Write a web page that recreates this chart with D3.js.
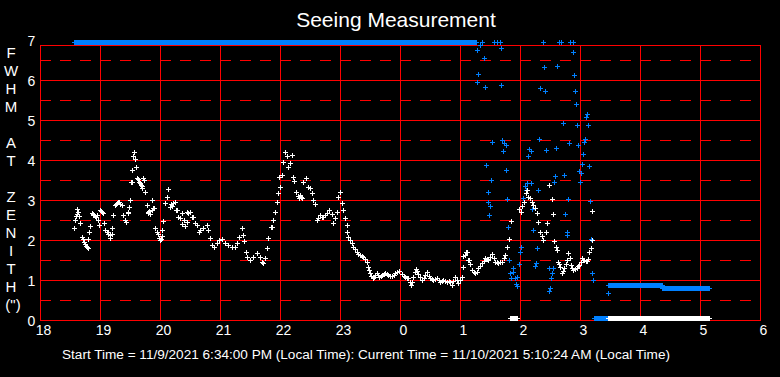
<!DOCTYPE html>
<html>
<head>
<meta charset="utf-8">
<script src="https://cdn.jsdelivr.net/npm/d3@7"></script>
<style>
  body { margin: 0; background: #000; }
  svg { display: block; }
</style>
</head>
<body>
<script>
// time is minutes after 18:00 local, value is FWHM at zenith in arcsec
var hourTicks = [18, 19, 20, 21, 22, 23, 0, 1, 2, 3, 4, 5, 6];
var fwhmTicks = [0, 1, 2, 3, 4, 5, 6, 7];
var titleLetters = ["F", "W", "H", "M", "", "A", "T", "", "Z", "E", "N", "I", "T", "H", "(\")"];

var seeing = [[34,2.29],[35,2.50],[35.5,2.60],[36.7,2.64],[37.3,2.77],[38.3,2.71],[39.3,2.61],[40.3,2.42],[42.3,2.08],[43.3,2.02],[44,1.96],[45,1.90],[46,1.85],[46.7,1.82],[47.5,1.79],[48.3,2.02],[49.3,2.19],[50.3,2.35],[51.7,2.67],[53,2.65],[53.3,2.62],[54.5,2.60],[55.5,2.58],[56.5,2.63],[57.7,2.50],[59.3,2.37],[60,2.75],[61,2.72],[61.7,2.71],[63.3,2.67],[64.3,2.42],[65,2.25],[66.5,2.20],[68,2.15],[68.3,2.21],[70,2.12],[70.3,2.04],[71.5,2.15],[72.3,2.29],[73.3,2.62],[75,2.88],[76,2.90],[77,2.93],[78,2.96],[79,2.94],[80,2.90],[81.7,2.87],[83.3,2.62],[85,2.50],[86,2.46],[87.7,2.67],[88.3,2.71],[89.3,2.83],[90,3.00],[91,3.44],[91.7,3.46],[92.3,3.75],[93.3,4.10],[94.3,4.21],[95,4.02],[96,3.82],[96.7,3.54],[97.7,3.52],[99,3.45],[100,3.42],[101,3.38],[101.7,3.29],[102,3.35],[103.3,3.54],[103.8,3.50],[105.3,3.21],[106.7,2.87],[107.5,2.70],[108.3,2.67],[109,2.72],[110,2.65],[111.7,3.00],[112,2.75],[113.3,2.79],[114.3,2.79],[115,2.29],[116.7,2.21],[117.5,2.15],[118.5,2.05],[120,2.00],[121,2.03],[122,2.10],[122.3,2.25],[123.3,2.47],[125,2.92],[126.7,3.08],[128.3,3.27],[130,2.83],[131,2.90],[132,2.86],[133,2.92],[135,2.96],[136,2.75],[136.7,2.75],[138.3,2.58],[140,2.55],[141.7,2.67],[142,2.40],[143.5,2.50],[145,2.35],[146.7,2.71],[147,2.45],[148.3,2.67],[150,2.71],[151.7,2.58],[153.3,2.58],[155,2.42],[156.7,2.37],[159,2.21],[160,2.25],[163.3,2.29],[166.7,2.37],[168.3,2.25],[170,2.04],[171.7,1.87],[174,1.82],[176.7,1.92],[179.3,2.00],[181.7,2.02],[185,1.92],[188.3,1.87],[191.7,1.83],[195,1.83],[196.7,1.92],[199,2.08],[201.7,2.29],[203.3,2.12],[204.3,1.98],[205.7,1.71],[207.3,1.58],[210,1.50],[213.3,1.58],[216.7,1.67],[220,1.58],[221.7,1.46],[222.7,1.42],[225,1.54],[226.7,1.79],[228.3,2.04],[230.7,2.33],[231.7,2.33],[233.3,2.50],[235,2.71],[236.7,2.96],[238.3,3.17],[239.3,3.58],[240,3.33],[241.7,3.62],[243.3,3.94],[245,4.21],[246.7,4.10],[248.3,3.83],[250,3.92],[251.7,4.12],[253.3,3.58],[254.3,3.48],[255.7,3.21],[258,3.10],[259,3.05],[260,3.12],[261,3.08],[262,3.05],[263.3,3.46],[265.7,3.54],[268.3,3.33],[270,3.29],[271.7,3.17],[273.3,3.00],[275,2.90],[276.7,2.50],[278,2.55],[280,2.62],[281.5,2.58],[283.3,2.57],[285,2.62],[286.7,2.67],[289.3,2.75],[291.7,2.65],[293.3,2.42],[295,2.54],[297.3,2.71],[298.3,3.08],[300,3.21],[302.3,2.92],[303.3,2.75],[305,2.54],[306.7,2.37],[307.3,2.21],[308.3,2.08],[310,2.00],[311.5,1.92],[313.3,1.83],[315,1.77],[316.7,1.71],[318,1.66],[320,1.62],[321.5,1.60],[323.3,1.58],[325,1.52],[326.7,1.46],[327.7,1.33],[329,1.25],[330,1.17],[331.5,1.10],[332.7,1.04],[334,1.08],[335,1.12],[336.7,1.18],[338,1.12],[339.3,1.08],[341,1.10],[341.7,1.12],[343.5,1.15],[345,1.18],[346.5,1.14],[348.3,1.12],[350,1.10],[351.7,1.10],[353.5,1.13],[355,1.17],[357,1.20],[359.3,1.23],[361.7,1.15],[363.5,1.10],[365,1.08],[366.7,1.05],[368.3,1.04],[370,0.95],[371,0.87],[372,0.95],[373.3,1.08],[375,1.20],[376,1.27],[377,1.22],[378.3,1.15],[380,1.08],[381.7,1.00],[383.5,1.06],[385,1.12],[386.7,1.21],[388.5,1.10],[390,1.04],[391.7,1.02],[393.3,1.00],[395,1.02],[396.7,1.04],[398.5,1.00],[400,0.96],[401.7,0.98],[403.3,1.00],[405,0.98],[406.7,0.96],[408.5,0.97],[410,0.96],[411.7,0.87],[413.5,0.98],[415,1.08],[416.7,1.00],[418.3,0.92],[420,1.00],[421.7,1.08],[422.7,1.60],[423.3,1.32],[425,1.62],[426,1.71],[426.7,1.71],[428.3,1.50],[429.3,1.50],[430.5,1.40],[431.7,1.25],[433.5,1.20],[435,1.17],[436.7,1.20],[438.3,1.29],[440,1.35],[441.7,1.42],[443.5,1.48],[445,1.54],[446.7,1.52],[448.3,1.50],[450,1.58],[451.7,1.65],[453.5,1.55],[455,1.46],[456.7,1.44],[458.3,1.42],[460,1.45],[461.7,1.46],[463.5,1.55],[465,1.62],[466.7,1.82],[469.3,2.02],[470.7,2.47],[479,2.77],[480.7,2.71],[482,2.85],[484.3,2.96],[486,3.17],[487,3.25],[488.3,3.08],[490,3.04],[491.5,2.95],[493.3,2.87],[495,2.79],[496.7,2.67],[498.3,2.46],[500,2.21],[501.5,2.10],[503.3,2.00],[505.7,2.21],[507.3,2.42],[509.3,3.37],[511.7,3.02],[513.3,2.65],[514.3,1.98],[515.7,1.83],[516.7,1.75],[517.7,1.46],[519,1.40],[520,1.33],[521.7,1.17],[523,1.22],[524,1.29],[525.5,1.40],[526.7,1.50],[528.3,1.67],[529.5,1.55],[530.7,1.37],[532,1.30],[533.3,1.25],[535,1.27],[536.7,1.29],[538,1.35],[539.3,1.37],[540.5,1.45],[541.7,1.54],[543,1.50],[544,1.50],[545.5,1.48],[546.7,1.48],[548,1.52],[549.3,1.71],[550.7,1.79],[551.7,2.00],[552.3,2.72]];

var other = [[436.7,6.75],[438.3,6.14],[437.3,5.96],[440,6.87],[444.3,6.54],[445.3,5.82],[446.3,3.87],[447.7,3.19],[448.3,2.94],[449.3,2.62],[450,2.85],[451.3,3.50],[452.3,4.44],[460.7,6.79],[461.3,5.87],[462.3,4.50],[463.3,4.22],[464.3,4.42],[466,4.37],[466.3,3.74],[467.3,3.02],[468.3,2.32],[469.3,1.50],[470,1.17],[471,1.06],[472.7,1.31],[473.3,1.21],[475,1.04],[476,0.89],[477.3,0.86],[477.3,1.08],[479.3,1.40],[480,1.69],[481.3,1.83],[483.3,3.04],[484.7,3.35],[486,3.25],[487.3,3.42],[488.3,4.09],[489.3,4.27],[490.7,4.23],[491,3.42],[492,2.77],[492.7,2.25],[495.3,1.35],[496,1.43],[497.3,1.79],[498.3,3.25],[499.3,4.52],[500.3,5.79],[504.3,6.32],[505.3,5.72],[506.3,4.24],[508.7,1.29],[509.3,0.73],[510,0.79],[511.3,1.04],[511.7,1.17],[513.3,1.29],[514.3,3.44],[515.3,3.59],[516.3,4.29],[517.3,6.35],[523.3,4.92],[524.3,3.62],[525,2.64],[526.7,2.20],[527.3,2.12],[528.3,3.02],[529.3,4.42],[533.3,6.69],[534.3,6.12],[535.3,5.72],[536.3,5.39],[537.3,4.87],[538.3,4.37],[539.3,3.72],[540,3.46],[541.3,3.68],[542.3,3.89],[543.3,4.14],[544.3,4.44],[545.3,4.52],[546.3,5.07],[547.3,5.14],[548.3,4.87],[549.3,3.84],[550,2.97],[551.3,2.02],[552.3,1.17],[553.3,1.00],[568.3,0.67],
  [441.5,6.94],[454,6.94],[457,6.94],[460,6.94],[502.5,6.94],[519,6.94],[521,6.94],[530,6.94],[532.5,6.94]];

// stretches where readings come every few seconds and the markers merge: [from, to, value]
var seeingRuns = [[470, 477, 0.04], [568, 669, 0.04]];
var otherRuns = [[34, 436, 6.94], [553.5, 568, 0.04], [568, 622, 0.88], [622, 669, 0.79]];

var W = 780, H = 377;
var left = 40, right = 760, bottom = 320, frameTop = 45;

var svg = d3.select("body").append("svg")
    .attr("width", W)
    .attr("height", H)
    .style("background", "#000");

var x = d3.scaleLinear().domain([0, 720]).range([left, right]);
var y = d3.scaleLinear().domain([0, 7]).range([bottom, 40]);

// grid
var grid = svg.append("g").attr("shape-rendering", "crispEdges").attr("stroke", "#ff0000").attr("fill", "none");

grid.selectAll(".half")
    .data(d3.range(0.5, 7, 1))
    .enter().append("line")
    .attr("x1", left).attr("x2", right)
    .attr("y1", function (d) { return y(d) + 0.5; })
    .attr("y2", function (d) { return y(d) + 0.5; })
    .attr("stroke-dasharray", "11,9");

grid.selectAll(".whole")
    .data(d3.range(1, 7))
    .enter().append("line")
    .attr("x1", left).attr("x2", right)
    .attr("y1", function (d) { return y(d) + 0.5; })
    .attr("y2", function (d) { return y(d) + 0.5; });

grid.selectAll(".hour")
    .data(d3.range(60, 720, 60))
    .enter().append("line")
    .attr("x1", function (d) { return x(d) + 0.5; })
    .attr("x2", function (d) { return x(d) + 0.5; })
    .attr("y1", frameTop).attr("y2", bottom);

grid.append("rect")
    .attr("x", left + 0.5).attr("y", frameTop + 0.5)
    .attr("width", right - left).attr("height", bottom - frameTop);

// axes (labels only)
var font = "'Liberation Sans', Arial, sans-serif";

var yAxis = svg.append("g")
    .attr("transform", "translate(" + left + ",0)")
    .call(d3.axisLeft(y).tickValues(fwhmTicks).tickSize(0).tickFormat(d3.format("d")));
yAxis.select(".domain").remove();
yAxis.selectAll("text")
    .attr("x", -8.5).attr("dy", "0.36em")
    .attr("text-anchor", "middle")
    .attr("fill", "#fff")
    .style("font-family", font).style("font-size", "14px");

var xAxis = svg.append("g")
    .attr("transform", "translate(0," + bottom + ")")
    .call(d3.axisBottom(x).tickValues(d3.range(0, 721, 60)).tickSize(0)
        .tickFormat(function (d, i) { return hourTicks[i]; }));
xAxis.select(".domain").remove();
xAxis.selectAll("text")
    .attr("x", 3).attr("y", 5).attr("dy", "0.71em")
    .attr("fill", "#fff")
    .style("font-family", font).style("font-size", "14px");

// y title, one letter per line
svg.selectAll(".ylab")
    .data(titleLetters)
    .enter().append("text")
    .attr("x", function (d) { return d.length > 1 ? 13 : 11; })
    .attr("y", function (d, i) { return 53 + i * 18; })
    .attr("dy", "0.36em")
    .attr("text-anchor", "middle")
    .attr("fill", "#fff")
    .style("font-family", font).style("font-size", "15px")
    .text(function (d) { return d; });

svg.append("text")
    .attr("x", 396).attr("y", 27)
    .attr("text-anchor", "middle")
    .attr("fill", "#fff")
    .style("font-family", font).style("font-size", "21px")
    .text("Seeing Measurement");

svg.append("text")
    .attr("x", 62).attr("y", 359)
    .attr("fill", "#fff")
    .attr("textLength", 608).attr("lengthAdjust", "spacingAndGlyphs")
    .style("font-family", font).style("font-size", "12px")
    .text("Start Time = 11/9/2021 6:34:00 PM (Local Time): Current Time = 11/10/2021 5:10:24 AM (Local Time)");

// markers
function plus(d) {
    var cx = Math.round(x(d[0])), cy = Math.round(y(d[1]));
    return "M" + (cx - 2) + "," + (cy + 0.5) + "h5M" + (cx + 0.5) + "," + (cy - 2) + "v5";
}

function drawRuns(runs, color) {
    var g = svg.append("g").attr("fill", color).attr("shape-rendering", "crispEdges");
    runs.forEach(function (r) {
        var x0 = Math.round(x(r[0])), x1 = Math.round(x(r[1])), cy = Math.round(y(r[2]));
        g.append("rect").attr("x", x0).attr("y", cy - 2).attr("width", x1 - x0 + 1).attr("height", 5);
        g.append("rect").attr("x", x0 - 2).attr("y", cy).attr("width", x1 - x0 + 5).attr("height", 1);
    });
}

function drawPoints(pts, color) {
    svg.append("g").attr("stroke", color).attr("stroke-width", 1).attr("fill", "none")
        .attr("shape-rendering", "crispEdges")
        .selectAll("path")
        .data(pts)
        .enter().append("path")
        .attr("d", plus);
}

drawRuns(otherRuns, "#0080ff");
drawPoints(other, "#0080ff");
drawRuns(seeingRuns, "#ffffff");
drawPoints(seeing, "#ffffff");
</script>
</body>
</html>
